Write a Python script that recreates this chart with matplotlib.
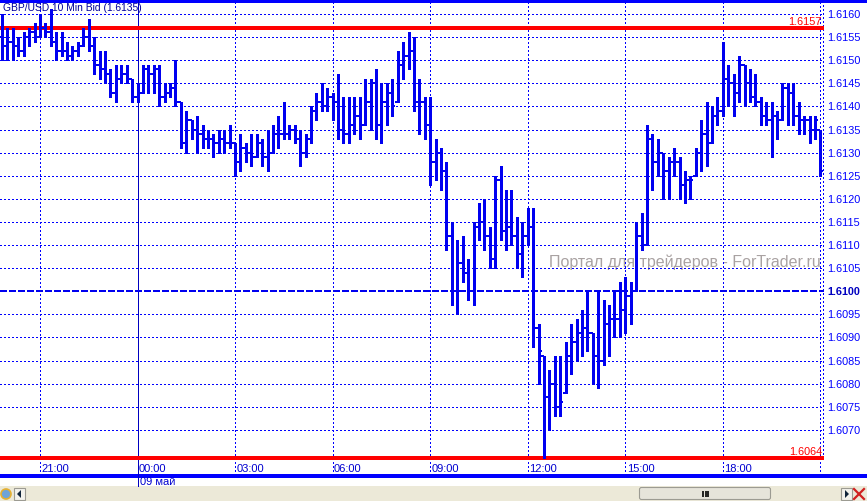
import numpy as np
import pandas as pd
import matplotlib
matplotlib.use("Agg")
import matplotlib.pyplot as plt
from matplotlib.patches import Rectangle, FancyBboxPatch, Polygon, Circle

plt.rcParams["font.family"] = ["Liberation Sans", "DejaVu Sans"]

# ---- data: GBP/USD 10-minute bid bars, 08 May 19:50 .. 09 May 21:00 ----
bar_times = pd.date_range("2011-05-08 19:50", "2011-05-09 21:00", freq="10min")

opens = [
    1.6155, 1.6153, 1.6154, 1.6153, 1.6152, 1.6155, 1.6156, 1.6155, 1.6157, 1.6156,
    1.6154, 1.6152, 1.6152, 1.6151, 1.6152, 1.6153, 1.6155, 1.6153, 1.6149, 1.6148,
    1.6147, 1.6143, 1.6146, 1.6147, 1.6146, 1.6142, 1.6143, 1.6148, 1.6147, 1.6148,
    1.6142, 1.6143, 1.6144, 1.6141, 1.6132, 1.6137, 1.6135, 1.6134, 1.6133, 1.6133,
    1.6132, 1.6133, 1.6132, 1.6132, 1.6128, 1.6131, 1.6130, 1.6129, 1.6132, 1.6129,
    1.6130, 1.6134, 1.6134, 1.6134, 1.6135, 1.6133, 1.6130, 1.6133, 1.6139, 1.6141,
    1.6140, 1.6142, 1.6141, 1.6135, 1.6134, 1.6136, 1.6138, 1.6136, 1.6141, 1.6145,
    1.6136, 1.6141, 1.6143, 1.6141, 1.6149, 1.6151, 1.6152, 1.6141, 1.6141, 1.6136,
    1.6128, 1.6130, 1.6126, 1.6112, 1.6100, 1.6106, 1.6104, 1.6100, 1.6114, 1.6115,
    1.6112, 1.6107, 1.6124, 1.6113, 1.6114, 1.6112, 1.6108, 1.6112, 1.6114, 1.6092,
    1.6086, 1.6077, 1.6080, 1.6075, 1.6078, 1.6086, 1.6089, 1.6091, 1.6092, 1.6091,
    1.6086, 1.6085, 1.6093, 1.6094, 1.6094, 1.6096, 1.6099, 1.6100, 1.6112, 1.6110,
    1.6133, 1.6128, 1.6130, 1.6126, 1.6128, 1.6128, 1.6123, 1.6124, 1.6125, 1.6130,
    1.6134, 1.6132, 1.6138, 1.6139, 1.6146, 1.6145, 1.6143, 1.6149, 1.6145, 1.6142,
    1.6141, 1.6138, 1.6137, 1.6138, 1.6137, 1.6144, 1.6143, 1.6138, 1.6137, 1.6137,
    1.6135, 1.6135,
]
highs = [
    1.6160, 1.6157, 1.6157, 1.6155, 1.6156, 1.6157, 1.6158, 1.6160, 1.6158, 1.6161,
    1.6156, 1.6156, 1.6154, 1.6153, 1.6154, 1.6157, 1.6159, 1.6155, 1.6152, 1.6152,
    1.6148, 1.6149, 1.6149, 1.6149, 1.6146, 1.6145, 1.6149, 1.6149, 1.6149, 1.6149,
    1.6145, 1.6145, 1.6150, 1.6141, 1.6139, 1.6137, 1.6138, 1.6136, 1.6135, 1.6134,
    1.6135, 1.6135, 1.6136, 1.6132, 1.6134, 1.6132, 1.6134, 1.6134, 1.6133, 1.6135,
    1.6136, 1.6138, 1.6141, 1.6136, 1.6136, 1.6135, 1.6134, 1.6140, 1.6143, 1.6145,
    1.6144, 1.6143, 1.6147, 1.6142, 1.6142, 1.6142, 1.6142, 1.6146, 1.6146, 1.6148,
    1.6145, 1.6145, 1.6146, 1.6152, 1.6154, 1.6156, 1.6155, 1.6146, 1.6142, 1.6142,
    1.6133, 1.6131, 1.6128, 1.6115, 1.6111, 1.6112, 1.6107, 1.6115, 1.6119, 1.6120,
    1.6114, 1.6125, 1.6127, 1.6122, 1.6122, 1.6116, 1.6115, 1.6118, 1.6118, 1.6093,
    1.6086, 1.6083, 1.6086, 1.6086, 1.6089, 1.6093, 1.6094, 1.6096, 1.6100, 1.6091,
    1.6100, 1.6098, 1.6097, 1.6100, 1.6102, 1.6103, 1.6102, 1.6115, 1.6117, 1.6136,
    1.6134, 1.6133, 1.6130, 1.6129, 1.6131, 1.6129, 1.6126, 1.6125, 1.6131, 1.6137,
    1.6141, 1.6140, 1.6142, 1.6154, 1.6149, 1.6147, 1.6151, 1.6149, 1.6148, 1.6147,
    1.6142, 1.6141, 1.6141, 1.6139, 1.6145, 1.6145, 1.6145, 1.6141, 1.6138, 1.6138,
    1.6138, 1.6135,
]
lows = [
    1.6150, 1.6150, 1.6150, 1.6151, 1.6151, 1.6153, 1.6154, 1.6155, 1.6155, 1.6153,
    1.6150, 1.6151, 1.6150, 1.6150, 1.6151, 1.6153, 1.6152, 1.6147, 1.6146, 1.6145,
    1.6142, 1.6141, 1.6145, 1.6145, 1.6141, 1.6141, 1.6143, 1.6143, 1.6143, 1.6140,
    1.6141, 1.6142, 1.6140, 1.6131, 1.6130, 1.6133, 1.6130, 1.6131, 1.6131, 1.6129,
    1.6130, 1.6130, 1.6131, 1.6125, 1.6126, 1.6128, 1.6127, 1.6129, 1.6127, 1.6126,
    1.6130, 1.6131, 1.6133, 1.6133, 1.6132, 1.6127, 1.6129, 1.6132, 1.6137, 1.6139,
    1.6139, 1.6137, 1.6133, 1.6132, 1.6132, 1.6134, 1.6133, 1.6136, 1.6135, 1.6133,
    1.6132, 1.6136, 1.6138, 1.6141, 1.6146, 1.6148, 1.6139, 1.6134, 1.6133, 1.6123,
    1.6124, 1.6122, 1.6109, 1.6097, 1.6095, 1.6102, 1.6098, 1.6097, 1.6111, 1.6109,
    1.6105, 1.6105, 1.6111, 1.6109, 1.6110, 1.6105, 1.6103, 1.6110, 1.6088, 1.6080,
    1.6064, 1.6070, 1.6073, 1.6073, 1.6078, 1.6082, 1.6085, 1.6086, 1.6087, 1.6080,
    1.6079, 1.6084, 1.6086, 1.6090, 1.6090, 1.6091, 1.6093, 1.6100, 1.6109, 1.6110,
    1.6122, 1.6125, 1.6120, 1.6120, 1.6125, 1.6120, 1.6119, 1.6120, 1.6125, 1.6126,
    1.6127, 1.6132, 1.6136, 1.6138, 1.6140, 1.6138, 1.6141, 1.6140, 1.6141, 1.6140,
    1.6136, 1.6136, 1.6129, 1.6133, 1.6137, 1.6136, 1.6136, 1.6134, 1.6134, 1.6132,
    1.6133, 1.6125,
]
closes = [
    1.6153, 1.6154, 1.6153, 1.6152, 1.6155, 1.6156, 1.6155, 1.6157, 1.6156, 1.6154,
    1.6152, 1.6152, 1.6151, 1.6152, 1.6153, 1.6155, 1.6153, 1.6149, 1.6148, 1.6147,
    1.6143, 1.6146, 1.6147, 1.6146, 1.6142, 1.6143, 1.6148, 1.6147, 1.6148, 1.6142,
    1.6143, 1.6144, 1.6141, 1.6132, 1.6137, 1.6135, 1.6134, 1.6133, 1.6133, 1.6132,
    1.6133, 1.6132, 1.6132, 1.6128, 1.6131, 1.6130, 1.6129, 1.6132, 1.6129, 1.6130,
    1.6134, 1.6134, 1.6134, 1.6135, 1.6133, 1.6130, 1.6133, 1.6139, 1.6141, 1.6140,
    1.6142, 1.6141, 1.6135, 1.6134, 1.6136, 1.6138, 1.6136, 1.6141, 1.6145, 1.6136,
    1.6141, 1.6143, 1.6140, 1.6149, 1.6151, 1.6152, 1.6141, 1.6141, 1.6136, 1.6128,
    1.6130, 1.6126, 1.6112, 1.6100, 1.6106, 1.6104, 1.6100, 1.6114, 1.6115, 1.6112,
    1.6107, 1.6124, 1.6113, 1.6114, 1.6112, 1.6108, 1.6112, 1.6114, 1.6092, 1.6087,
    1.6077, 1.6080, 1.6075, 1.6076, 1.6086, 1.6089, 1.6091, 1.6092, 1.6091, 1.6086,
    1.6085, 1.6093, 1.6094, 1.6094, 1.6096, 1.6099, 1.6100, 1.6112, 1.6110, 1.6133,
    1.6128, 1.6130, 1.6126, 1.6128, 1.6128, 1.6123, 1.6124, 1.6124, 1.6130, 1.6134,
    1.6132, 1.6138, 1.6139, 1.6146, 1.6145, 1.6143, 1.6149, 1.6145, 1.6142, 1.6141,
    1.6138, 1.6137, 1.6138, 1.6137, 1.6144, 1.6143, 1.6138, 1.6137, 1.6137, 1.6135,
    1.6137, 1.6126,
]
price_levels = np.round(np.arange(1.6070, 1.61601, 0.0005), 4)
session_high = 1.6157
session_low = 1.6064
round_level = 1.6100
title = "GBP/USD 10 Min Bid (1.6135)"
date_label = "09 май"
watermark = "Портал для трейдеров - ForTrader.ru"

BLUE = "#0000f0"
GRID = "#0000ff"
RED = "#ff0000"

midnight = pd.Timestamp("2011-05-09 00:00")
step = pd.Timedelta("10min")
x = np.asarray((bar_times - midnight) / step)
grid_times = pd.date_range("2011-05-08 21:00", "2011-05-09 21:00", freq="3h")
gx = np.asarray((grid_times - midnight) / step)

# ---- figure: 867x501 px ----
W, H = 867, 501
fig = plt.figure(figsize=(W / 100, H / 100), dpi=100)
fig.patch.set_facecolor("white")

# pixel-space layer for window chrome
ov = fig.add_axes([0, 0, 1, 1])
ov.set_xlim(0, W)
ov.set_ylim(H, 0)
ov.axis("off")

px_per_bar = 5.42
x0_px = 137.5
ax = fig.add_axes([0, 26 / H, 824 / W, 474 / H])
ax.patch.set_alpha(0)
ax.set_xlim(-x0_px / px_per_bar, (824 - x0_px) / px_per_bar)
ax.set_ylim(1.6160 - 461 / 46200, 1.6160 + 13 / 46200)
for s in ax.spines.values():
    s.set_visible(False)

# grid
x_right = (820.5 - x0_px) / px_per_bar
for p in price_levels:
    if p == round_level:
        continue
    ax.hlines(p, ax.get_xlim()[0], x_right, color=GRID, lw=0.75,
              linestyles=[(0, (1, 2))], antialiased=False, zorder=1)
for t, xx in zip(grid_times, gx):
    if t == midnight:
        continue
    ax.axvline(xx, color=GRID, lw=0.75, ls=(0, (1, 2)), antialiased=False, zorder=1)
ax.axvline(ax.get_xlim()[1] - 0.25, ymin=(475 - 458) / 474, color=GRID, lw=0.75,
           ls=(0, (1, 2)), antialiased=False, zorder=1)

# watermark
ax.text(0.666, (475 - 262) / 474, watermark, transform=ax.transAxes, fontsize=11.5,
        color="#a9a2a2", va="center", ha="left", zorder=0.5)

# reference lines
ax.hlines([session_high, session_low], ax.get_xlim()[0], ax.get_xlim()[1],
          color=RED, lw=1.5, antialiased=False, zorder=2)
ax.hlines(round_level, ax.get_xlim()[0], ax.get_xlim()[1], color=BLUE, lw=1.5,
          linestyles=[(0, (3, 1.4))], antialiased=False, zorder=2)
xr = (822 - x0_px) / px_per_bar
ax.text(xr, session_high + 0.00002, f"{session_high:.4f}", color=RED, fontsize=7.8,
        ha="right", va="bottom", zorder=3)
ax.text(xr, session_low + 0.00002, f"{session_low:.4f}", color=RED, fontsize=7.8,
        ha="right", va="bottom", zorder=3)

# OHLC bars
tick = 0.55
ax.vlines(x, lows, highs, color=BLUE, lw=2.1, antialiased=False, zorder=4)
ax.hlines(opens, x - tick, x, color=BLUE, lw=1.3, antialiased=False, zorder=4)
ax.hlines(closes, x, x + tick, color=BLUE, lw=1.3, antialiased=False, zorder=4)

# right price axis
ax.yaxis.tick_right()
ax.set_yticks(price_levels)
ax.set_yticklabels([f"{p:.4f}" for p in price_levels])
ax.tick_params(axis="y", length=0, pad=2.5, labelsize=7.8, labelcolor=GRID)
for lbl, p in zip(ax.get_yticklabels(), price_levels):
    if p == round_level:
        lbl.set_fontweight("bold")
        lbl.set_color("#0000c0")
ax.set_xticks([])

# time labels
for t, xx in zip(grid_times[:-1], gx[:-1]):
    ax.text(xx + 0.25, (475 - 469) / 474, t.strftime("%H:%M"), transform=ax.get_xaxis_transform(),
            fontsize=8, color="#0000d0", ha="left", va="center", zorder=3)

# title
ax.text(3 / 824, 1 - 7 / 474, title, transform=ax.transAxes, fontsize=7.4,
        color="#000099", ha="left", va="center", zorder=3)

# frame lines, day separator, date
ov.hlines(0.8, 0, W, color=GRID, lw=1.5, antialiased=False)
ov.hlines(475.5, 0, W, color=GRID, lw=1.5, antialiased=False)
ov.vlines(x0_px, 0, 486, color="#0000c0", lw=0.72, antialiased=False)
ov.text(140, 482, date_label, fontsize=8, color="#0000d0", ha="left", va="center")

# scrollbar strip
ov.add_patch(Rectangle((0, 486), W, 15, facecolor="#ece9d8", edgecolor="none"))
ov.add_patch(FancyBboxPatch((640, 488), 130, 11, boxstyle="round,pad=0.5,rounding_size=2",
                            facecolor="#e6e4da", edgecolor="#9c9b92", lw=0.8))
for gxp in (703, 705.5, 708):
    ov.vlines(gxp, 491, 497, color="black", lw=1.2)
for bx, d in ((14, -1), (841, 1)):
    ov.add_patch(Rectangle((bx, 487.5), 11, 12, facecolor="#f3f2ec", edgecolor="#9c9b92", lw=0.8))
    cx = bx + 5.5
    ov.add_patch(Polygon([[cx - 1.5 * d, 490], [cx - 1.5 * d, 498], [cx + 2.5 * d, 494]],
                         closed=True, facecolor="#10243a", edgecolor="none"))
ov.add_patch(Circle((6, 494), 5, facecolor="#6fa3d8", edgecolor="#e6b030", lw=1.2))
ov.plot([854, 864], [489, 499], color="#d02020", lw=1.6)
ov.plot([854, 864], [499, 489], color="#d02020", lw=1.6)

fig.savefig("out.png", dpi=100, facecolor="white")
